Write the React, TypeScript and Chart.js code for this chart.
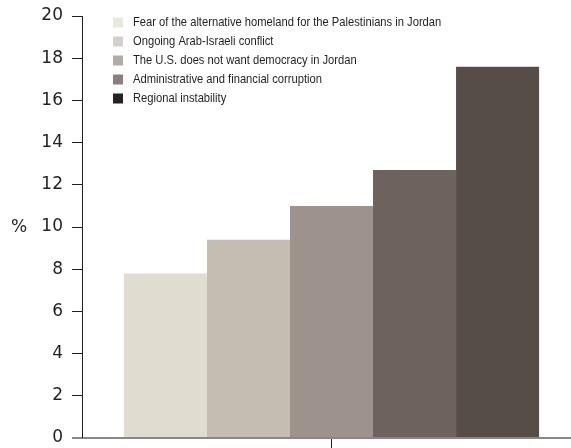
import React, { useEffect, useRef } from "react";
import { Chart, registerables } from "chart.js";

Chart.register(...registerables);

const categories = [""];
const seriesLabels = [
  "Fear of the alternative homeland for the Palestinians in Jordan",
  "Ongoing Arab-Israeli conflict",
  "The U.S. does not want democracy in Jordan",
  "Administrative and financial corruption",
  "Regional instability",
];
const seriesValues = [7.8, 9.4, 11.0, 12.7, 17.6];
const barColors = ["#e0ddd0", "#c4bdb2", "#9d928c", "#6d625d", "#574d47"];
const swatchColors = ["#e9e8de", "#d3cfca", "#b3abaa", "#8a7f7f", "#262122"];
const yTicks = [0, 2, 4, 6, 8, 10, 12, 14, 16, 18, 20];
const yTitle = "%";

const TEXT = "#231f20";

const customPlugin = {
  id: "custom",
  afterDraw(chart: any) {
    const { ctx, chartArea } = chart;
    ctx.save();
    const yb = chart.scales.y.getPixelForValue(0);
    ctx.strokeStyle = "#888888";
    ctx.lineWidth = 2;
    ctx.beginPath();
    ctx.moveTo(chartArea.left - 10, yb);
    ctx.lineTo(chart.width, yb);
    ctx.stroke();
    ctx.strokeStyle = TEXT;
    ctx.lineWidth = 1;
    ctx.beginPath();
    ctx.moveTo(chartArea.left + 0.5, chartArea.top);
    ctx.lineTo(chartArea.left + 0.5, yb);
    ctx.stroke();
    ctx.fillStyle = TEXT;
    ctx.font = "17px 'DejaVu Sans'";
    ctx.textAlign = "left";
    ctx.textBaseline = "middle";
    ctx.fillText(yTitle, 11, (chartArea.top + chartArea.bottom) / 2 + 1);
    ctx.font = "13px 'Liberation Sans', sans-serif";
    const lx = chartArea.left + 31;
    const ly0 = chartArea.top + 6.5;
    seriesLabels.forEach((lab, i) => {
      const cy = ly0 + i * 19;
      ctx.fillStyle = swatchColors[i];
      ctx.fillRect(lx, cy - 5, 10, 10);
      ctx.fillStyle = TEXT;
      ctx.save();
      ctx.translate(lx + 20, cy);
      ctx.scale(0.86, 1);
      ctx.fillText(lab, 0, 0);
      ctx.restore();
    });
    ctx.restore();
  },
};

export default function App() {
  const ref = useRef<HTMLCanvasElement>(null);
  useEffect(() => {
    document.body.style.margin = "0";
    const chart = new Chart(ref.current!, {
      type: "bar",
      data: {
        labels: categories,
        datasets: seriesLabels.map((label, i) => ({
          label,
          data: [seriesValues[i]],
          backgroundColor: barColors[i],
          borderWidth: 0,
          categoryPercentage: 0.832,
          barPercentage: 1,
        })),
      },
      options: {
        responsive: false,
        animation: false,
        layout: { padding: { top: 16, left: 0, right: 0, bottom: 0 } },
        plugins: {
          legend: { display: false },
          tooltip: { enabled: false },
        },
        scales: {
          x: {
            offset: true,
            grid: {
              display: true,
              drawOnChartArea: false,
              tickLength: 10,
              color: TEXT,
              offset: false,
            },
            border: { display: false },
            ticks: { display: false },
            afterFit(scale: any) {
              scale.height = 10;
              scale.paddingLeft = 0;
              scale.paddingRight = 0;
            },
          },
          y: {
            min: 0,
            max: 20,
            afterBuildTicks(scale: any) {
              scale.ticks = yTicks.map((v) => ({ value: v }));
            },
            grid: {
              display: true,
              drawOnChartArea: false,
              tickLength: 10,
              color: TEXT,
            },
            border: { display: true, color: TEXT, width: 1 },
            ticks: {
              color: TEXT,
              padding: 9,
              font: { family: "'DejaVu Sans'", size: 17 },
            },
            afterFit(scale: any) {
              scale.width = 82;
              scale.paddingTop = 0;
              scale.paddingBottom = 0;
            },
          },
        },
      },
      plugins: [customPlugin],
    });
    return () => chart.destroy();
  }, []);
  return (
    <div style={{ position: "fixed", left: 0, top: 0, width: 571, height: 448, overflow: "hidden", background: "#fff" }}>
      <canvas ref={ref} width={581} height={448} style={{ display: "block" }} />
    </div>
  );
}
